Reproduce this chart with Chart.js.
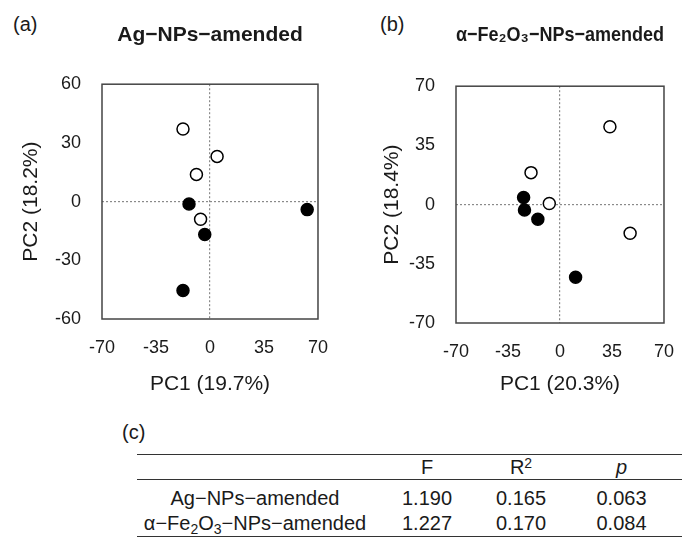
<!DOCTYPE html>
<html>
<head>
<meta charset="utf-8">
<script src="https://cdn.jsdelivr.net/npm/chart.js@4"></script>
<style>
  html, body { margin: 0; padding: 0; background: #fff; }
  body { width: 692px; height: 538px; position: relative; overflow: hidden;
         font-family: "Liberation Sans", Arial, sans-serif; color: #1a1a1a; }
  canvas { position: absolute; top: 0; }
  #chartA { left: 0; }
  #chartB { left: 346px; }
  .painel { position: absolute; font-size: 20px; line-height: 20px; }
  #tabela { position: absolute; left: 137px; top: 454px; width: 545px;
            border-collapse: collapse; font-size: 20px; }
  #tabela td, #tabela th { padding: 0; text-align: center; font-weight: normal; white-space: nowrap; }
  #tabela thead tr { border-top: 1.5px solid #333; border-bottom: 1.5px solid #333; }
  #tabela thead th { height: 24px; line-height: 24px; }
  #tabela tbody tr:last-child { border-bottom: 1.5px solid #333; }
  #tabela .r1 td { height: 31px; line-height: 25px; vertical-align: bottom; }
  #tabela .r2 td { height: 23px; line-height: 25px; vertical-align: top; }
  sub { font-size: 0.7em; vertical-align: -0.3em; line-height: 0; }
  sup { font-size: 0.7em; vertical-align: 0.45em; line-height: 0; }
</style>
</head>
<body>
<div class="painel" style="left:13px; top:14px;">(a)</div>
<div class="painel" style="left:380px; top:14px;">(b)</div>
<div class="painel" style="left:122px; top:422px;">(c)</div>

<canvas id="chartA" width="346" height="400"></canvas>
<canvas id="chartB" width="346" height="400"></canvas>

<table id="tabela">
  <colgroup>
    <col style="width:236px"><col style="width:108px"><col style="width:80px"><col style="width:121px">
  </colgroup>
  <thead>
    <tr><th></th><th>F</th><th>R<sup>2</sup></th><th><i>p</i></th></tr>
  </thead>
  <tbody>
    <tr class="r1"><td>Ag−NPs−amended</td><td>1.190</td><td>0.165</td><td>0.063</td></tr>
    <tr class="r2"><td>α−Fe<sub>2</sub>O<sub>3</sub>−NPs−amended</td><td>1.227</td><td>0.170</td><td>0.084</td></tr>
  </tbody>
</table>

<script>
// --- DADOS ---

// (a) Ag-NPs-amended
const agAbertoX = [-17.5, 4.6, -8.8, -6.1];
const agAbertoY = [37.1, 23.1, 13.9, -9.0];
const agCheioX = [-13.6, -3.4, -17.5, 63.0];
const agCheioY = [-1.2, -16.8, -45.4, -4.1];
const agTicksX = [-70, -35, 0, 35, 70];
const agTicksY = [-60, -30, 0, 30, 60];

// (b) a-Fe2O3-NPs-amended
const feAbertoX = [33.6, -19.5, -7.2, 47.2];
const feAbertoY = [46.0, 18.9, 0.7, -16.9];
const feCheioX = [-24.5, -23.9, -14.9, 10.5];
const feCheioY = [4.2, -3.2, -8.7, -43.0];
const feTicksX = [-70, -35, 0, 35, 70];
const feTicksY = [-70, -35, 0, 35, 70];

const FONTE = '"Liberation Sans", Arial, sans-serif';
const COR_TEXTO = '#1a1a1a';

// junta x e y em pontos {x, y}
function pontos(xs, ys) {
  return xs.map((x, i) => ({ x: x, y: ys[i] }));
}

// desenha a moldura em volta da 치rea do gr치fico
const moldura = {
  id: 'moldura',
  beforeDatasetsDraw(chart) {
    const { ctx, chartArea: a } = chart;
    ctx.save();
    ctx.strokeStyle = '#444';
    ctx.lineWidth = 1.5;
    ctx.strokeRect(a.left, a.top, a.right - a.left, a.bottom - a.top);
    ctx.restore();
  }
};

// s칩 a linha do zero aparece (pontilhada)
function corGrade(c) {
  return c.tick && c.tick.value === 0 ? '#8a8a8a' : 'rgba(0,0,0,0)';
}

function escala(ticksArr, extra) {
  return Object.assign({
    type: 'linear',
    min: ticksArr[0],
    max: ticksArr[ticksArr.length - 1],
    afterBuildTicks: s => { s.ticks = ticksArr.map(v => ({ value: v })); },
    grid: { display: true, drawTicks: false, color: corGrade, lineWidth: 1.2 },
    border: { display: false, dash: [2, 2] }
  }, extra);
}

function criaGrafico(id, cfg) {
  return new Chart(document.getElementById(id).getContext('2d'), {
    type: 'scatter',
    data: {
      datasets: [
        {
          data: pontos(cfg.abertoX, cfg.abertoY),
          backgroundColor: '#fff', borderColor: '#000', borderWidth: 1.5,
          pointRadius: 6, pointHoverRadius: 6
        },
        {
          data: pontos(cfg.cheioX, cfg.cheioY),
          backgroundColor: '#000', borderColor: '#000', borderWidth: 1.5,
          pointRadius: 6, pointHoverRadius: 6
        }
      ]
    },
    options: {
      responsive: false,
      animation: false,
      layout: { padding: { left: 0, right: cfg.padDir, top: 0, bottom: 0 } },
      plugins: {
        legend: { display: false },
        tooltip: { enabled: false },
        title: {
          display: true, text: cfg.titulo, fullSize: false, color: COR_TEXTO,
          font: { family: FONTE, size: 21, weight: 'bold' },
          padding: { top: 23, bottom: cfg.padTitulo }
        }
      },
      scales: {
        x: escala(cfg.ticksX, {
          afterFit: s => { s.height = cfg.altX; },
          ticks: { autoSkip: false, maxRotation: 0, padding: 18, color: COR_TEXTO, font: { family: FONTE, size: 18 } },
          title: { display: true, text: cfg.tituloX, color: COR_TEXTO, font: { family: FONTE, size: 21 }, padding: { top: 0, bottom: 3 } }
        }),
        y: escala(cfg.ticksY, {
          afterFit: s => { s.width = cfg.largY; },
          ticks: { autoSkip: false, padding: 21, color: COR_TEXTO, font: { family: FONTE, size: 18 } },
          title: { display: true, text: cfg.tituloY, color: COR_TEXTO, font: { family: FONTE, size: 21 }, padding: { top: cfg.padTituloY, bottom: 0 } }
        })
      }
    },
    plugins: [moldura]
  });
}

criaGrafico('chartA', {
  titulo: 'Ag−NPs−amended',
  tituloX: 'PC1 (19.7%)', tituloY: 'PC2 (18.2%)',
  abertoX: agAbertoX, abertoY: agAbertoY, cheioX: agCheioX, cheioY: agCheioY,
  ticksX: agTicksX, ticksY: agTicksY,
  padDir: 20, padTitulo: 36, altX: 81, largY: 102, padTituloY: 19
});

criaGrafico('chartB', {
  titulo: 'α−Fe₂O₃−NPs−amended',
  tituloX: 'PC1 (20.3%)', tituloY: 'PC2 (18.4%)',
  abertoX: feAbertoX, abertoY: feAbertoY, cheioX: feCheioX, cheioY: feCheioY,
  ticksX: feTicksX, ticksY: feTicksY,
  padDir: 12, padTitulo: 38, altX: 77, largY: 110, padTituloY: 34
});
</script>
</body>
</html>
